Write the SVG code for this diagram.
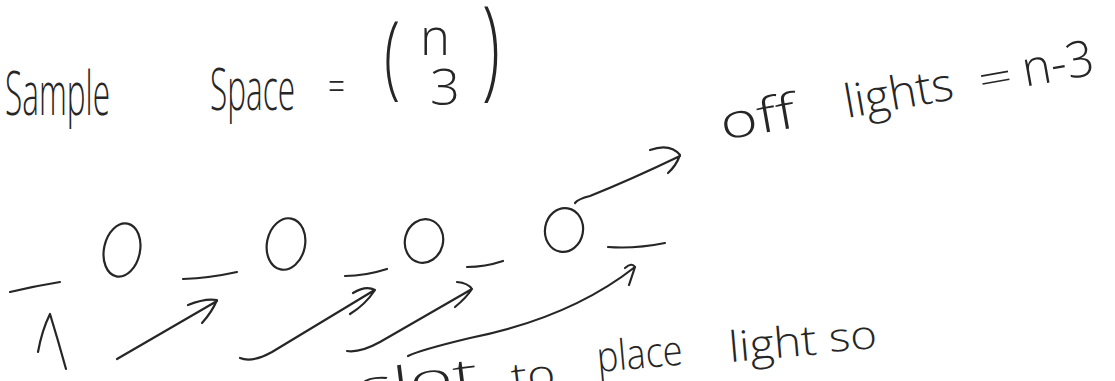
<svg xmlns="http://www.w3.org/2000/svg" width="1115" height="381" viewBox="0 0 1115 381">
<style>
.ink{fill:none;stroke:#262626;stroke-width:2.2;stroke-linecap:round;stroke-linejoin:round}
.hw{font-family:"Open Sans","Liberation Sans",sans-serif;font-weight:300;fill:#262626}
</style>
<rect width="1115" height="381" fill="#ffffff"/>
<g id="title">
  <text class="hw" x="5" y="115" font-size="60" textLength="105" lengthAdjust="spacingAndGlyphs">Sample</text>
  <text class="hw" x="210" y="110" font-size="58" textLength="85" lengthAdjust="spacingAndGlyphs">Space</text>
  <text class="hw" x="328" y="100" font-size="40" textLength="17" lengthAdjust="spacingAndGlyphs">=</text>
  <text class="hw" transform="translate(384,87) scale(1,2)" font-size="46" textLength="16" lengthAdjust="spacingAndGlyphs">(</text>
  <text class="hw" x="420" y="55" font-size="52" textLength="30" lengthAdjust="spacingAndGlyphs">n</text>
  <text class="hw" x="430" y="105" font-size="49" textLength="30" lengthAdjust="spacingAndGlyphs">3</text>
  <text class="hw" transform="translate(482,85) scale(1,2)" font-size="55" textLength="18" lengthAdjust="spacingAndGlyphs">)</text>
</g>
<g id="off-lights-label" transform="rotate(-10 723 140)">
  <text class="hw" x="723" y="140" font-size="48" textLength="76" lengthAdjust="spacingAndGlyphs">off</text>
  <text class="hw" x="849" y="140" font-size="46" textLength="110" lengthAdjust="spacingAndGlyphs">lights</text>
  <text class="hw" x="985" y="140" font-size="40" textLength="34" lengthAdjust="spacingAndGlyphs">=</text>
  <text class="hw" x="1030" y="140" font-size="50" textLength="72" lengthAdjust="spacingAndGlyphs">n-3</text>
</g>
<g id="slot1"><path class="ink" d="M10,292 Q35,286 60,282"/></g>
<g id="light1"><ellipse class="ink" cx="122" cy="250" rx="18" ry="27" transform="rotate(12 122 250)"/></g>
<g id="slot2"><path class="ink" d="M183,279 Q210,278 237,272"/></g>
<g id="light2"><ellipse class="ink" cx="286" cy="244" rx="19" ry="26" transform="rotate(12 286 244)"/></g>
<g id="slot3"><path class="ink" d="M345,276 Q365,276 387,269"/></g>
<g id="light3"><ellipse class="ink" cx="424" cy="241" rx="19" ry="22" transform="rotate(15 424 241)"/></g>
<g id="slot4"><path class="ink" d="M467,267 Q485,267 503,261"/></g>
<g id="light4"><ellipse class="ink" cx="564" cy="230" rx="19" ry="22" transform="rotate(10 564 230)"/></g>
<g id="slot5"><path class="ink" d="M608,247 Q635,249 665,243"/></g>
<g id="connectors">
  <path class="ink" d="M38,352 Q42,330 50,314 Q58,340 66,369"/>
  <path class="ink" d="M117,359 L217,301 M188,305 Q205,298 217,300 Q212,312 202,323"/>
  <path class="ink" d="M240,358 Q252,363 272,352 L373,291 M353,293 Q366,285 375,290 Q365,305 350,314"/>
  <path class="ink" d="M347,351 Q360,353 380,342 L472,289 M457,282 Q468,283 472,289 Q466,298 455,307"/>
  <path class="ink" d="M408,356 Q420,350 470,338 Q570,318 635,267 M625,268 Q632,262 635,267 L629,285"/>
  <path class="ink" d="M575,203 Q578,199 590,196 Q630,180 680,156 M650,150 Q670,143 680,155 Q676,166 668,173"/>
</g>
<g id="bottom-label">
  <text class="hw" transform="rotate(-7 360 402)" x="360" y="402" font-size="42" textLength="120" lengthAdjust="spacingAndGlyphs">slot</text>
  <text class="hw" transform="rotate(-7 513 392)" x="513" y="392" font-size="40" textLength="44" lengthAdjust="spacingAndGlyphs">to</text>
  <text class="hw" transform="rotate(-5 598 372)" x="598" y="372" font-size="42" textLength="86" lengthAdjust="spacingAndGlyphs">place</text>
  <text class="hw" transform="rotate(-5 730 362)" x="730" y="362" font-size="42" textLength="88" lengthAdjust="spacingAndGlyphs">light</text>
  <text class="hw" transform="rotate(-5 830 352)" x="830" y="352" font-size="40" textLength="48" lengthAdjust="spacingAndGlyphs">so</text>
</g>
</svg>
